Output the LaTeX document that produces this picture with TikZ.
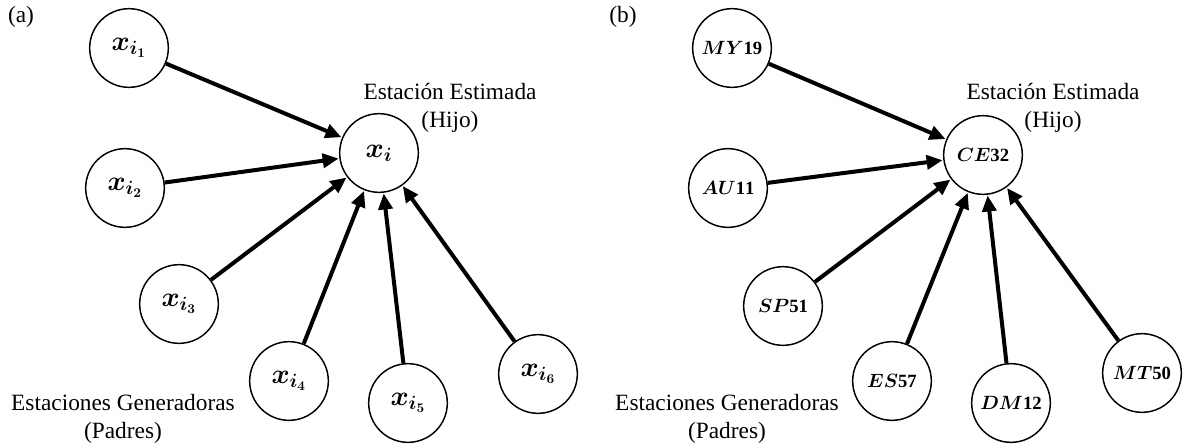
\documentclass[tikz,border=0pt]{standalone}
\usepackage{fontspec}
\usepackage{amsmath,bm}
\setmainfont{Liberation Serif}
\usetikzlibrary{arrows.meta}
\tikzset{
  station/.style={circle,draw,line width=1.1pt,minimum size=59pt,inner sep=0pt},
  var/.style={station,font=\fontsize{20.5}{22}\selectfont},
  code/.style={station,font=\fontsize{14}{16}\selectfont},
  link/.style={-{Triangle[length=12pt,width=10.5pt]},line width=3pt,shorten >=0.5pt},
  caption/.style={font=\fontsize{17.5}{21}\selectfont,align=center}
}
\begin{document}
\begin{tikzpicture}[x=0.75pt,y=-0.75pt]
				\useasboundingbox (0,0) rectangle (1183,444);
				\node[caption] (la) at (21,17) {(a)};
				\node[var] (xi) at (379,153) {$\bm{x_i}$};
				\node[var] (xa) at (129,48) {$\bm{x_{i_1}}$};
				\node[var] (xb) at (125,188) {$\bm{x_{i_2}}$};
				\node[var] (xc) at (179,304) {$\bm{x_{i_3}}$};
				\node[var] (xd) at (289,381) {$\bm{x_{i_4}}$};
				\node[var] (xe) at (408,403) {$\bm{x_{i_5}}$};
				\node[var] (xf) at (538,374) {$\bm{x_{i_6}}$};
				\draw[link] (xa)--(xi);
				\draw[link] (xb)--(xi);
				\draw[link] (xc)--(xi);
				\draw[link] (xd)--(xi);
				\draw[link] (xe)--(xi);
				\draw[link] (xf)--(xi);
				\node[caption] (ha) at (450,108) {Estación Estimada\\(Hijo)};
				\node[caption] (pa) at (123,419) {Estaciones Generadoras\\(Padres)};
				\node[caption] (lb) at (623,17) {(b)};
				\node[code] (ce) at (983,155) {$\bm{CE}\mathbf{32}$};
				\node[code] (my) at (732,48) {$\bm{MY}\mathbf{19}$};
				\node[code] (au) at (728,188) {$\bm{AU}\mathbf{11}$};
				\node[code] (sp) at (783,306) {$\bm{SP}\mathbf{51}$};
				\node[code] (es) at (892,381) {$\bm{ES}\mathbf{57}$};
				\node[code] (dm) at (1011,403) {$\bm{DM}\mathbf{12}$};
				\node[code] (mt) at (1142,373) {$\bm{MT}\mathbf{50}$};
				\draw[link] (my)--(ce);
				\draw[link] (au)--(ce);
				\draw[link] (sp)--(ce);
				\draw[link] (es)--(ce);
				\draw[link] (dm)--(ce);
				\draw[link] (mt)--(ce);
				\node[caption] (hb) at (1053,108) {Estación Estimada\\(Hijo)};
				\node[caption] (pb) at (727,419) {Estaciones Generadoras\\(Padres)};
\end{tikzpicture}
\end{document}
